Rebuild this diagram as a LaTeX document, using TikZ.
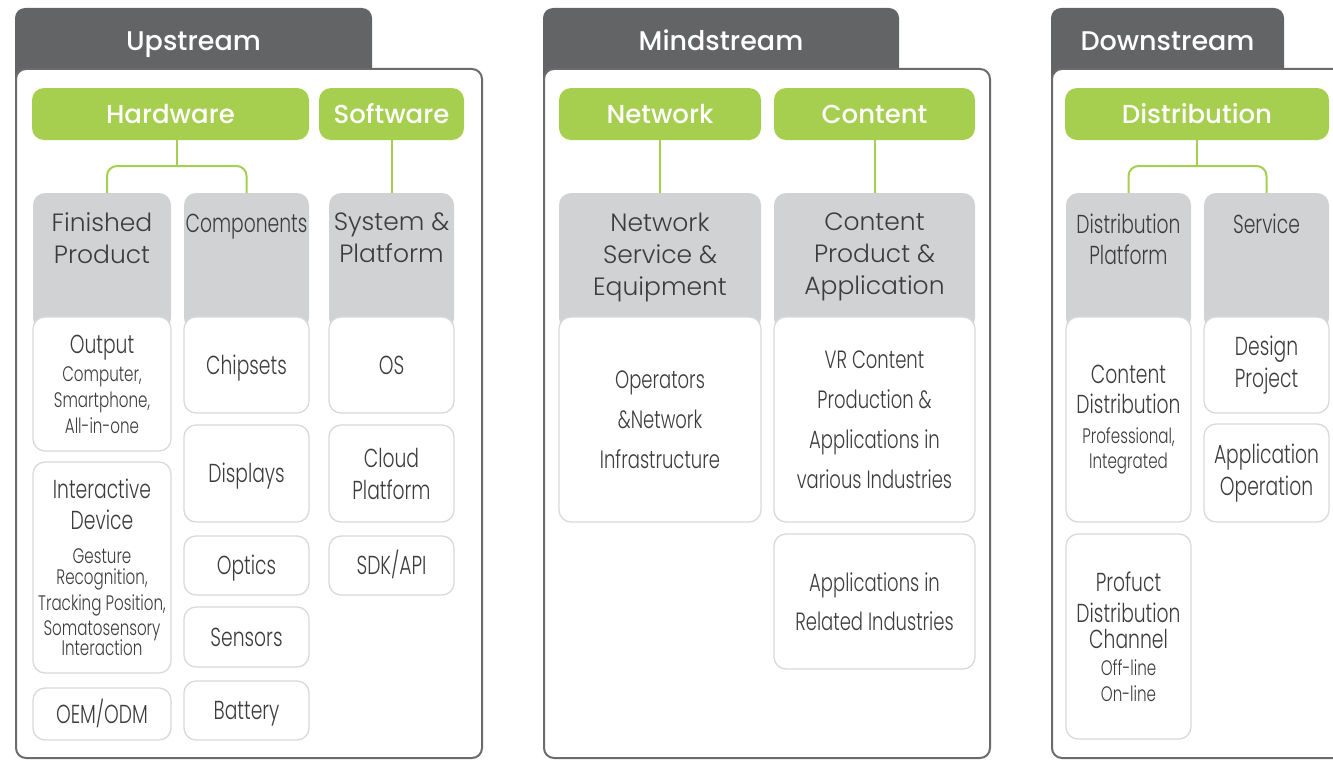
\documentclass[tikz,border=0pt]{standalone}
\usepackage{fontspec}
\usetikzlibrary{positioning}

\newfontfamily\headfont{Poppins Medium}
\newfontfamily\widefont{Poppins Light}
\newfontfamily\narrowfont{Poppins Light}[FakeStretch=0.72]
\lineskiplimit=-100pt

\definecolor{tabgray}{HTML}{636466}
\definecolor{panelgray}{HTML}{6B6B6D}
\definecolor{leafgreen}{HTML}{A6CE4F}
\definecolor{catgray}{HTML}{D1D2D4}
\definecolor{itemline}{HTML}{D9D9DA}
\definecolor{ink}{HTML}{3C3C3E}

\newcommand\bigsz{\fontsize{26}{32}\selectfont}
\newcommand\smsz{\fontsize{21}{26}\selectfont}

\tikzset{
  tab/.style={fill=tabgray, rounded corners=10pt},
  panel/.style={draw=panelgray, line width=2pt, fill=white, rounded corners=10pt},
  streamtitle/.style={anchor=base, text=white, inner sep=0pt, font={\headfont\fontsize{27}{27}\selectfont}},
  leaf/.style={fill=leafgreen, rounded corners=12pt, minimum height=52pt, inner sep=0pt, text=white, font={\headfont\fontsize{26}{26}\selectfont}},
  cat/.style={fill=catgray, rounded corners=12pt, minimum height=137pt, inner sep=0pt},
  widelabel/.style={align=center, inner sep=0pt, text=ink, font={\widefont\fontsize{25}{32}\selectfont}},
  narrowlabel/.style={align=center, inner sep=0pt, text=ink, font={\narrowfont\fontsize{26}{31}\selectfont}},
  item/.style={draw=itemline, line width=1.3pt, fill=white, rounded corners=12pt, inner sep=0pt, align=center, text=ink, font={\narrowfont\bigsz}},
  one/.style={text height=18pt, text depth=0pt},
  link/.style={draw=leafgreen, line width=2pt, rounded corners=10pt}
}

\begin{document}
\begin{tikzpicture}[x=1pt,y=-1pt]
\useasboundingbox (0,0) rectangle (1333,760);
\clip (0,0) rectangle (1333,760);

% panels
\foreach \a/\b/\c in {15/372/482, 543/899/990, 1051/1284/1350} {
  \fill[tab] (\a,8) rectangle (\b,100);
  \draw[panel] (\a+1,69) rectangle (\c,758);
}

% stream titles
\node[streamtitle] (upt) at (193.5,51) {Upstream};
\node[streamtitle] (mdt) at (721,51) {Mindstream};
\node[streamtitle] (dnt) at (1167.5,51) {Downstream};

% green heads
\node[leaf, minimum width=277pt] (hw) at (170.5,114) {Hardware};
\node[leaf, minimum width=145pt] (sw) at (391.5,114) {Software};
\node[leaf, minimum width=202pt] (net) at (660,114) {Network};
\node[leaf, minimum width=201pt] (con) at (874.5,114) {Content};
\node[leaf, minimum width=264pt] (dis) at (1197,114) {Distribution};

% gray categories
\node[cat, minimum width=138pt] (fin) at (102,261.5) {};
\node[cat, minimum width=125pt] (cmp) at (246.5,261.5) {};
\node[cat, minimum width=125pt] (sys) at (391.5,261.5) {};
\node[cat, minimum width=202pt] (nse) at (660,261.5) {};
\node[cat, minimum width=201pt] (cpa) at (874.5,261.5) {};
\node[cat, minimum width=125pt] (dpl) at (1128.5,261.5) {};
\node[cat, minimum width=125pt] (svc) at (1266.5,261.5) {};

\node[widelabel, below=20pt of fin.north] (fin-t) {Finished\\Product};
\node[narrowlabel, below=21pt of cmp.north] (cmp-t) {Components};
\node[widelabel, below=20pt of sys.north] (sys-t) {System \&\\Platform};
\node[widelabel, below=20pt of nse.north] (nse-t) {Network\\Service \&\\Equipment};
\node[widelabel, below=20pt of cpa.north] (cpa-t) {Content\\Product \&\\Application};
\node[narrowlabel, below=21pt of dpl.north] (dpl-t) {Distribution\\Platform};
\node[narrowlabel, below=21pt of svc.north] (svc-t) {Service};

% links
\coordinate (hwj) at (177,166);
\coordinate (dsj) at (1197,166);
\draw[link] (hw.south -| hwj) -- (hwj);
\draw[link] ([xshift=5pt]fin.north) |- (hwj) -| (cmp.north);
\draw[link] (sw) -- (sys);
\draw[link] (net) -- (nse);
\draw[link] (con) -- (cpa);
\draw[link] (dis) -- (dsj);
\draw[link] (dpl.north) |- (dsj) -| (svc.north);

% upstream items
\node[item, minimum width=138pt, minimum height=134pt, font={\narrowfont\smsz}] (out) at (102,384)
  {{\bigsz Output}\\[2pt]Computer,\\Smartphone,\\All-in-one};
\node[item, minimum width=138pt, minimum height=211pt, font={\narrowfont\smsz}] (ida) at (102,567.5)
  {{\bigsz Interactive}\\[5pt]{\bigsz Device}\\[8pt]Gesture\\[-5pt]Recognition,\\Tracking Position,\\[-1pt]Somatosensory\\[-6pt]Interaction};
\node[item, one, minimum width=138pt, minimum height=52pt] (oem) at (102,714) {OEM/ODM};
\node[item, one, minimum width=125pt, minimum height=96pt] (chip) at (246.5,365) {Chipsets};
\node[item, one, minimum width=125pt, minimum height=97pt] (disp) at (246.5,473.5) {Displays};
\node[item, one, minimum width=125pt, minimum height=59pt] (opt) at (246.5,565.5) {Optics};
\node[item, one, minimum width=125pt, minimum height=60pt] (sens) at (246.5,637) {Sensors};
\node[item, one, minimum width=125pt, minimum height=59pt] (bat) at (246.5,710.5) {Battery};
\node[item, one, minimum width=125pt, minimum height=96pt] (os) at (391.5,365) {OS};
\node[item, minimum width=125pt, minimum height=97pt] (cld) at (391.5,473.5) {Cloud\\Platform};
\node[item, one, minimum width=125pt, minimum height=59pt] (sdk) at (391.5,565.5) {SDK/API};

% mindstream items
\node[item, minimum width=202pt, minimum height=205pt, font={\narrowfont\fontsize{25}{40}\selectfont}] (ops) at (660,419.5)
  {Operators\\\&Network\\Infrastructure};
\node[item, minimum width=201pt, minimum height=205pt, font={\narrowfont\fontsize{25}{40}\selectfont}] (vrc) at (874.5,419.5)
  {VR Content\\Production \&\\Applications in\\various Industries};
\node[item, minimum width=201pt, minimum height=135pt, font={\narrowfont\fontsize{25}{39}\selectfont}] (rel) at (874.5,601.5)
  {Applications in\\Related Industries};

% downstream items
\node[item, minimum width=125pt, minimum height=205pt, font={\narrowfont\smsz}] (cdi) at (1128.5,419.5)
  {{\bigsz Content}\\[4pt]{\bigsz Distribution}\\[4pt]Professional,\\[-1pt]Integrated};
\node[item, minimum width=125pt, minimum height=205pt, font={\narrowfont\smsz}] (pdc) at (1128.5,636.5)
  {{\bigsz Profuct}\\[5pt]{\bigsz Distribution}\\{\bigsz Channel}\\[1pt]Off-line\\On-line};
\node[item, minimum width=125pt, minimum height=96pt] (dsg) at (1266.5,365) {Design\\Project};
\node[item, minimum width=125pt, minimum height=98pt] (apo) at (1266.5,473) {Application\\Operation};
\end{tikzpicture}
\end{document}
